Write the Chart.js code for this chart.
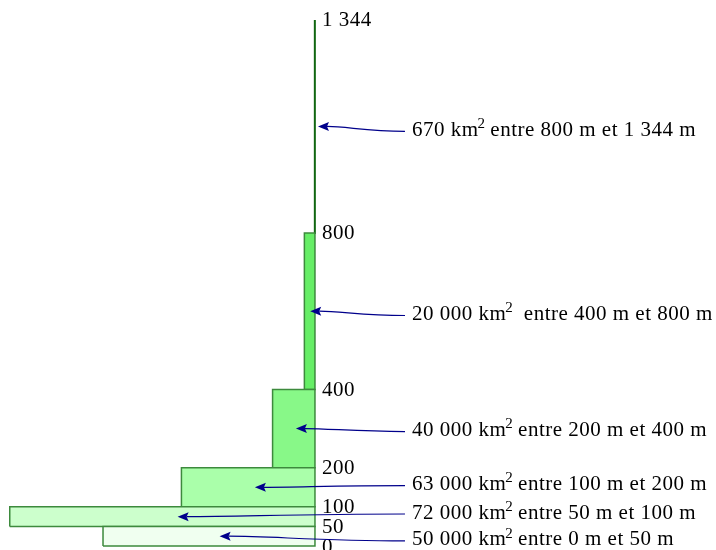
<!DOCTYPE html>
<html>
<head>
<meta charset="utf-8">
<script src="https://cdn.jsdelivr.net/npm/chart.js@4/dist/chart.umd.min.js"></script>
<style>
  body { margin: 0; background: #fff; }
  #wrap { width: 716px; height: 550px; position: relative; }
</style>
</head>
<body>
<div id="wrap"><canvas id="chart"></canvas></div>
<script>
// altitude classes (m) and surface of each class (km2)
const altBounds = [0, 50, 100, 200, 400, 800, 1344];
const areas = [50000, 72000, 63000, 40000, 20000, 670];
const areaLabels = ['50 000', '72 000', '63 000', '40 000', '20 000', '670'];
const rangeLabels = [' entre 0 m et 50 m', ' entre 50 m et 100 m', ' entre 100 m et 200 m',
  ' entre 200 m et 400 m', '  entre 400 m et 800 m', ' entre 800 m et 1 344 m'];
const tickValues = [0, 50, 100, 200, 400, 800, 1344];
const tickLabels = ['0', '50', '100', '200', '400', '800', '1 344'];

const fills = ['#f0fff0', '#ccffcc', '#aaffaa', '#88f888', '#66ee66', '#116611'];
// altitude where each callout text is centred
const calloutAlt = [15.5, 84.3, 157, 295, 591.5, 1062];
const FONT = '"Liberation Serif", "Times New Roman", serif';

// each class is a rectangle: height = altitude range, width = area / range
const datasets = areas.map((a, i) => {
  const lo = altBounds[i], hi = altBounds[i + 1];
  const w = a / (hi - lo);
  return {
    data: [{x: -w, y: lo}, {x: 0, y: lo}, {x: 0, y: hi}, {x: -w, y: hi}, {x: -w, y: lo}],
    showLine: true,
    fill: 'shape',
    backgroundColor: fills[i],
    borderColor: i === 5 ? '#116611' : '#3d8a3d',
    borderWidth: i === 5 ? 2 : 1.5,
    pointRadius: 0,
    tension: 0
  };
});

function drawArrow(ctx, x1, y1, x2, y2) {
  const d = (x1 - x2) * 0.45;
  ctx.beginPath();
  ctx.moveTo(x1, y1);
  ctx.bezierCurveTo(x1 - d, y1, x2 + 10 + d * 0.5, y2, x2 + 9, y2);
  ctx.stroke();
  ctx.beginPath();
  ctx.moveTo(x2, y2);
  ctx.lineTo(x2 + 11, y2 - 4.5);
  ctx.lineTo(x2 + 9, y2);
  ctx.lineTo(x2 + 11, y2 + 4.5);
  ctx.closePath();
  ctx.fill();
}

const labelsPlugin = {
  id: 'labels',
  afterDatasetsDraw(chart) {
    const ctx = chart.ctx;
    const xs = chart.scales.x, ys = chart.scales.y;
    const x0 = xs.getPixelForValue(0);
    ctx.save();
    ctx.fillStyle = '#000';
    ctx.font = '21px ' + FONT;
    ctx.letterSpacing = '0.5px';
    ctx.textBaseline = 'middle';
    ctx.textAlign = 'left';
    tickValues.forEach((v, i) => {
      ctx.fillText(tickLabels[i], x0 + 7, ys.getPixelForValue(v) + 1);
    });

    areas.forEach((a, i) => {
      const lo = altBounds[i], hi = altBounds[i + 1];
      const w = a / (hi - lo);
      const xl = xs.getPixelForValue(-w);
      const hy = ys.getPixelForValue((lo + hi) / 2);
      let hx = x0 - 0.45 * (x0 - xl);
      if (x0 - xl < 3) hx = x0 + 3;
      else if (hx > x0 - 2) hx = x0 - 2;
      const ty = ys.getPixelForValue(calloutAlt[i]);

      ctx.strokeStyle = '#00008b';
      ctx.fillStyle = '#00008b';
      ctx.lineWidth = 1.2;
      drawArrow(ctx, x0 + 90, ty + 1, hx, hy);

      // callout text with superscript 2
      ctx.fillStyle = '#000';
      let tx = x0 + 97;
      ctx.font = '21px ' + FONT;
      const s1 = areaLabels[i] + ' km';
      ctx.fillText(s1, tx, ty);
      tx += ctx.measureText(s1).width - 1;
      ctx.font = '15px ' + FONT;
      ctx.fillText('2', tx, ty - 6);
      tx += ctx.measureText('2').width - 1;
      ctx.font = '21px ' + FONT;
      ctx.fillText(rangeLabels[i], tx, ty);
    });
    ctx.restore();
  }
};

new Chart(document.getElementById('chart'), {
  type: 'scatter',
  data: { datasets },
  options: {
    responsive: true,
    maintainAspectRatio: false,
    animation: false,
    events: [],
    layout: { padding: 0 },
    scales: {
      x: { type: 'linear', min: -1486, max: 1892, display: false },
      y: { type: 'linear', min: -10.2, max: 1395, display: false }
    },
    plugins: { legend: { display: false }, tooltip: { enabled: false } }
  },
  plugins: [labelsPlugin]
});
</script>
</body>
</html>
